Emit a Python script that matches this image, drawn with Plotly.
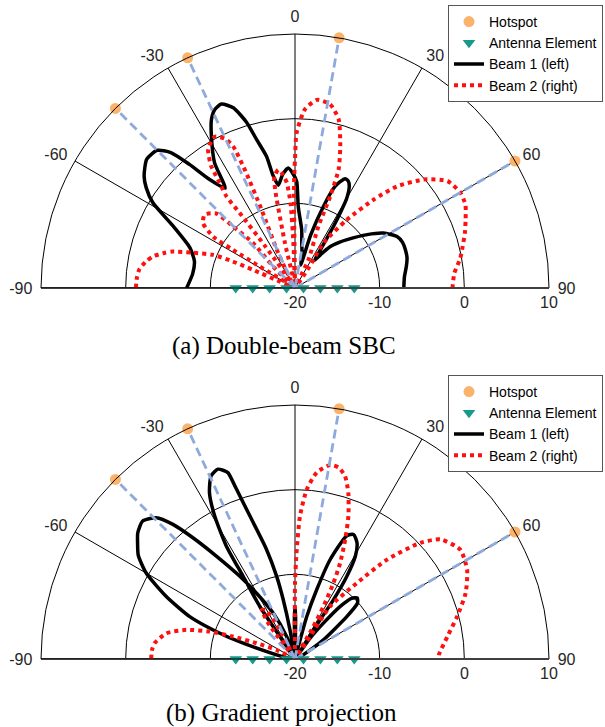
import plotly.graph_objects as go

# ---------------- data ----------------
angle_ticks = [-90, -60, -30, 0, 30, 60, 90]
radial_ticks = [-20, -10, 0, 10]

hotspot_theta = [-45, -25, 10, 60]
hotspot_r = [10, 10, 10, 10]

antenna_theta = [-90, -90, -90, -90, 90, 90, 90, 90]
antenna_r = [-13, -15, -17, -19, -19, -17, -15, -13]

# (a) Double-beam SBC
a_beam1_theta = [-90, -82, -75, -69, -63, -59, -56, -53.4, -49, -45, -42.5, -40.5, -38.2, -35,
                 -32.7, -28.8, -26.4, -24.2, -21.8, -18.9, -16.3, -14.5, -12.2, -11, -9.2,
                 -6.2, -3.2, -1, 0.9, 2.3, 6.6, 8.5, 12, 14, 16.5, 19.2, 21.5, 24.6, 26.5, 28.1,
                 30, 31, 32, 33.5, 35.5, 37.5, 40.3, 44, 47.1, 53.5, 58.2, 63.2, 67, 71, 75, 79, 84, 90]
a_beam1_r = [-7.2, -7.8, -7.7, -6.7, -3.8, -0.4, 1.2, 2.2, 3.2, 3.0, 1.7, -0.8, -3.7, -5.6,
             -2.4, 0.5, 2.2, 3.1, 3.4, 2.5, 0.4, -1.9, -4.1, -6.5, -7.7,
             -6.5, -5.8, -6.5, -7.4, -10.4, -13.1, -14.6, -16.0, -17.2, -13.5, -9.8, -7.1, -5.8, -5.9, -6.4,
             -7.8, -9.5, -11.4, -14.5, -16.0, -15.0, -13.6, -12.5, -11.6, -9.4, -7.7, -6.5, -6.2, -6.2, -6.3, -6.6, -7.0, -7.15]

a_beam2_theta = [-90, -86, -83, -80, -77.5, -75, -73.4, -71, -68, -66.9, -66.6, -67, -62,
                 -58.7, -58.4, -57.9, -54.8, -50.9, -46.6, -45.2, -43, -45.5, -40,
                 -35.5, -36.4, -36.8, -35.4, -34.5, -32.1, -28, -25.2, -23.6, -23, -23.1, -25.7, -20,
                 -12.6, -11.5, -10.5, -8, -6.6, -4.5, -3, -2, -1,
                 -0.6, 0, 0.6, 3.2, 6.6, 10.8, 14.5, 17.7, 20.2, 21, 20.8, 25.4, 28,
                 34, 32.3, 37.2, 41.7, 45.1, 49.9, 55, 60.1, 64, 68.2, 72, 76.1, 80, 84.7, 90]
a_beam2_r = [-1.2, -1.3, -1.5, -2.1, -2.8, -4.0, -4.9, -7.2, -9.55, -12.0, -14.6, -18.1, -20,
             -15.1, -11.4, -8.6, -6.7, -6.25, -7.2, -9.7, -12.75, -16.4, -20,
             -14, -9.0, -6.5, -4.3, -2.5, -0.7, 0.24, -0.5, -1.7, -5.0, -9.9, -15.4, -20,
             -14.6, -8.6, -6.6, -5.9, -6.3, -7.5, -10, -15, -20,
             -8.0, -4.8, -1.65, 1.15, 2.37, 2.1, 0.58, -2.4, -5.1, -8.4, -12.2, -16.3, -20,
             -17, -13.7, -9.9, -6.0, -3.0, -0.1, 2.0, 2.55, 2.4, 1.7, 1.1, 0.4, -0.2, -1.1, -1.4]

# (b) Gradient projection
b_beam1_theta = [-77, -73, -70.8, -68.1, -64.1, -60, -56.5, -53.6, -51.3, -47.9, -44.5, -42.2,
                 -40.1, -37.4, -33.7, -30.3, -25.4, -20.4, -20,
                 -33.9, -33.8, -32.1, -31.3, -29.3, -27.2, -24.6, -22.1, -19.8, -19.3, -19,
                 -17.5, -14.6, -12.5, -11.2, -9.8, -8,
                 -1.5, -0.8, 0, 0.8, 1.5,
                 13, 15.5, 17.4, 19.5, 22.8, 25.2, 28.1, 30.4, 32.1, 33, 32.7, 32,
                 36, 38.4, 40.7, 43, 45.5, 48.2, 50.7, 56.1, 59, 62]
b_beam1_r = [-20, -13.6, -10.2, -6.6, -3.1, 0.3, 2.2, 3.1, 3.8, 4.27, 3.4, 1.47,
             -1.28, -4.7, -8.25, -11.0, -14.0, -17.2, -20,
             -16.8, -12.5, -8.5, -4.4, -0.6, 2.1, 3.8, 4.2, 3.4, 2.1, 1.2,
             -2.3, -6.6, -10.0, -12.9, -16.5, -20,
             -20, -15, -13.8, -15, -20,
             -20, -14.8, -11.4, -7.5, -4.2, -3.75, -4.45, -5.9, -8.5, -11.7, -14.5, -20,
             -17, -14.6, -11.8, -10.2, -9.7, -10.1, -12.1, -15.95, -17.9, -20]

b_beam2_theta = [-90, -86, -83.6, -78.7, -75, -72.2, -70.1, -67.7, -63.8, -60,
                 -40, -37, -34, -31, -28, -25,
                 -0.6, -0.3, 0, 0.9, 2, 4, 6.7, 10.3, 12.8, 15.3, 17.8, 20.5, 22.8, 25.2, 26.8,
                 28.4, 29.5, 31,
                 33.9, 33.8, 39.2, 42.8, 47.2, 50.6, 56.5, 62.6, 68.9, 75.3, 81.6, 88.4, 90]
b_beam2_r = [-3.0, -3.1, -3.3, -4.5, -6.7, -9.4, -12.2, -15.1, -17.6, -20,
             -20, -15, -13, -13.3, -15.5, -20,
             -20, -16, -11, -7.1, -3.1, 0.1, 2.2, 3.3, 3.2, 2.4, 0.6, -2.0, -4.7, -7.5, -9.9,
             -12.9, -15.6, -20,
             -16.8, -12.5, -8.4, -4.0, 0.2, 2.25, 3.4, 2.9, 1.6, -0.2, -1.8, -3.0, -3.0]

captions = ["(a) Double-beam SBC", "(b) Gradient projection"]

# ---------------- styling ----------------
W, H = 605, 727
HOT = "#FBB26A"
TEAL = "#179A8B"
BLUE = "#8EA9DB"
RED = "#FF1010"
FONT = "Liberation Sans, Arial, sans-serif"
SERIF = "Liberation Serif, Times New Roman, serif"

fig = go.Figure()


def add_panel(sub, leg, b1t, b1r, b2t, b2r):
    # left baseline (sector edge at -90), same style as the radial axis line
    fig.add_trace(go.Scatterpolar(theta=[angle_ticks[0], angle_ticks[0]],
                                  r=[radial_ticks[0], radial_ticks[-1]], mode="lines",
                                  subplot=sub, showlegend=False, hoverinfo="skip",
                                  line=dict(color="#404040", width=2)))
    fig.add_trace(go.Scatterpolar(theta=b1t, r=b1r, mode="lines", subplot=sub, legend=leg,
                                  name="Beam 1 (left)", legendrank=3,
                                  line=dict(color="black", width=3.5, shape="spline", smoothing=0.6)))
    fig.add_trace(go.Scatterpolar(theta=b2t, r=b2r, mode="lines", subplot=sub, legend=leg,
                                  name="Beam 2 (right)", legendrank=4,
                                  line=dict(color=RED, width=4, dash="4px,4px", shape="spline",
                                            smoothing=0.6)))
    lt, lr = [], []
    for t in hotspot_theta:
        lt += [t, t, None]
        lr += [radial_ticks[0], radial_ticks[-1], None]
    fig.add_trace(go.Scatterpolar(theta=lt, r=lr, mode="lines", subplot=sub, showlegend=False,
                                  line=dict(color=BLUE, width=2.8, dash="9px,5px")))
    fig.add_trace(go.Scatterpolar(theta=hotspot_theta, r=hotspot_r, mode="markers", subplot=sub,
                                  legend=leg, name="Hotspot", legendrank=1, cliponaxis=False,
                                  marker=dict(color=HOT, size=11, symbol="circle")))
    fig.add_trace(go.Scatterpolar(theta=antenna_theta, r=antenna_r, mode="markers", subplot=sub,
                                  legend=leg, name="Antenna Element", legendrank=2, cliponaxis=False,
                                  marker=dict(color=TEAL, size=11, symbol="triangle-down")))


add_panel("polar", "legend", a_beam1_theta, a_beam1_r, a_beam2_theta, a_beam2_r)
add_panel("polar2", "legend2", b_beam1_theta, b_beam1_r, b_beam2_theta, b_beam2_r)


def polar_layout(y0, y1):
    cx, R = 295, 254
    return dict(
        domain=dict(x=[(cx - R) / W, (cx + R) / W], y=[y0, y1]),
        sector=[0, 180],
        bgcolor="white",
        angularaxis=dict(rotation=90, direction="clockwise", thetaunit="degrees",
                         tickmode="array", tickvals=angle_ticks,
                         ticktext=[str(v) for v in angle_ticks],
                         ticks="outside", ticklen=5, tickcolor="rgba(0,0,0,0)",
                         showline=True, linecolor="black", linewidth=1,
                         showgrid=True, gridcolor="black", gridwidth=1,
                         tickfont=dict(family=FONT, size=16, color="#262626")),
        radialaxis=dict(range=[radial_ticks[0], radial_ticks[-1]], tickmode="array",
                        tickvals=radial_ticks, ticktext=[str(v) for v in radial_ticks],
                        ticks="", showline=True, linecolor="#404040", linewidth=2,
                        showgrid=True, gridcolor="black", gridwidth=1, angle=0,
                        side="clockwise",
                        tickfont=dict(family=FONT, size=16, color="#262626")),
    )


legend_style = dict(x=603 / W, xanchor="right", yanchor="top",
                    bgcolor="white", bordercolor="#555555", borderwidth=1,
                    font=dict(family=FONT, size=14, color="black"),
                    tracegroupgap=0, itemwidth=30)

fig.update_layout(
    width=W, height=H,
    margin=dict(l=0, r=0, t=0, b=0),
    paper_bgcolor="white",
    polar=polar_layout(1 - 288 / H, 1 - 34 / H),
    polar2=polar_layout(1 - 659 / H, 1 - 405 / H),
    legend=dict(legend_style, y=1 - 5 / H),
    legend2=dict(legend_style, y=1 - 375 / H),
    showlegend=True,
    annotations=[
        dict(text=captions[0], x=284 / W, y=1 - 346 / H, xref="paper", yref="paper",
             showarrow=False, xanchor="center", yanchor="middle",
             font=dict(family=SERIF, size=25, color="black")),
        dict(text=captions[1], x=281 / W, y=1 - 713 / H, xref="paper", yref="paper",
             showarrow=False, xanchor="center", yanchor="middle",
             font=dict(family=SERIF, size=25, color="black")),
    ],
)

fig.write_html("out.html", config={"displayModeBar": False},
               post_script="document.body.style.margin='0px';")
